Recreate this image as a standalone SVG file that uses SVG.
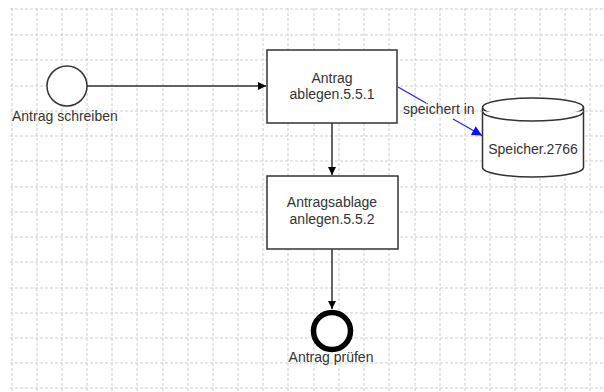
<svg xmlns="http://www.w3.org/2000/svg" width="604" height="392" viewBox="0 0 604 392">
<style>
.grid{stroke:#cdcdcd;stroke-width:1;stroke-dasharray:3,2;fill:none}
.shape{fill:#fff;stroke:#333;stroke-width:1.5}
.lbl{font-family:"Liberation Sans",Arial,sans-serif;font-size:14px;fill:#333}
.mid{text-anchor:middle}
.conn{stroke:#333;stroke-width:1.5;fill:none}
.blue{stroke:#2020ff;stroke-width:1.2;fill:none}
</style>
<defs>
<marker id="ah" viewBox="0 0 10 10" refX="10" refY="5" markerWidth="9" markerHeight="8" markerUnits="userSpaceOnUse" orient="auto">
<path d="M0,0 L10,5 L0,10 z" fill="#000"/>
</marker>
<marker id="ahb" viewBox="0 0 10 10" refX="10" refY="5" markerWidth="11" markerHeight="10" markerUnits="userSpaceOnUse" orient="auto">
<path d="M0,0 L10,5 L0,10 z" fill="#1010ff"/>
</marker>
</defs>
<rect width="604" height="392" fill="#fff"/>
<g id="grid" class="grid">
<path d="M12,8V392M37,8V392M62,8V392M87,8V392M112,8V392M137,8V392M163,8V392M188,8V392M213,8V392M238,8V392M263,8V392M288,8V392M314,8V392M339,8V392M364,8V392M389,8V392M415,8V392M440,8V392M465,8V392M490,8V392M515,8V392M540,8V392M565,8V392M590,8V392"/>
<path d="M10,9H604M10,35H604M10,60H604M10,86H604M10,111H604M10,136H604M10,161H604M10,187H604M10,212H604M10,237H604M10,262H604M10,288H604M10,313H604M10,338H604M10,363H604M10,388H604"/>
</g>
<g id="connectors">
<path class="conn" d="M87,86H266" marker-end="url(#ah)"/>
<path class="conn" d="M332,123V175" marker-end="url(#ah)"/>
<path class="conn" d="M332,249V309" marker-end="url(#ah)"/>
<path class="blue" d="M398,87L426,103"/>
<path class="blue" d="M453,119L482,135.5" marker-end="url(#ahb)"/>
<text class="lbl" x="403" y="114">speichert in</text>
</g>
<g id="start">
<circle class="shape" cx="67" cy="86" r="20"/>
<text class="lbl" x="12" y="121">Antrag schreiben</text>
</g>
<g id="task1">
<rect class="shape" x="267" y="50" width="130" height="73"/>
<text class="lbl mid" x="332" y="83">Antrag</text>
<text class="lbl mid" x="332" y="99">ablegen.5.5.1</text>
</g>
<g id="task2">
<rect class="shape" x="267" y="176" width="131" height="73"/>
<text class="lbl mid" x="332" y="207">Antragsablage</text>
<text class="lbl mid" x="332" y="224">anlegen.5.5.2</text>
</g>
<g id="store">
<path class="shape" d="M482.5,107.5V167.5A50.5,9.5 0 0 0 583.5,167.5V107.5"/>
<ellipse class="shape" cx="533" cy="107.5" rx="50.5" ry="9.5"/>
<path class="shape" d="M482.5,111.5A50.5,9.5 0 0 0 583.5,111.5" fill="none"/>
<text class="lbl mid" x="533" y="154">Speicher.2766</text>
</g>
<g id="end">
<circle cx="332" cy="331" r="18.5" fill="#fff" stroke="#000" stroke-width="5.5"/>
<text class="lbl mid" x="331" y="362">Antrag prüfen</text>
</g>
</svg>
